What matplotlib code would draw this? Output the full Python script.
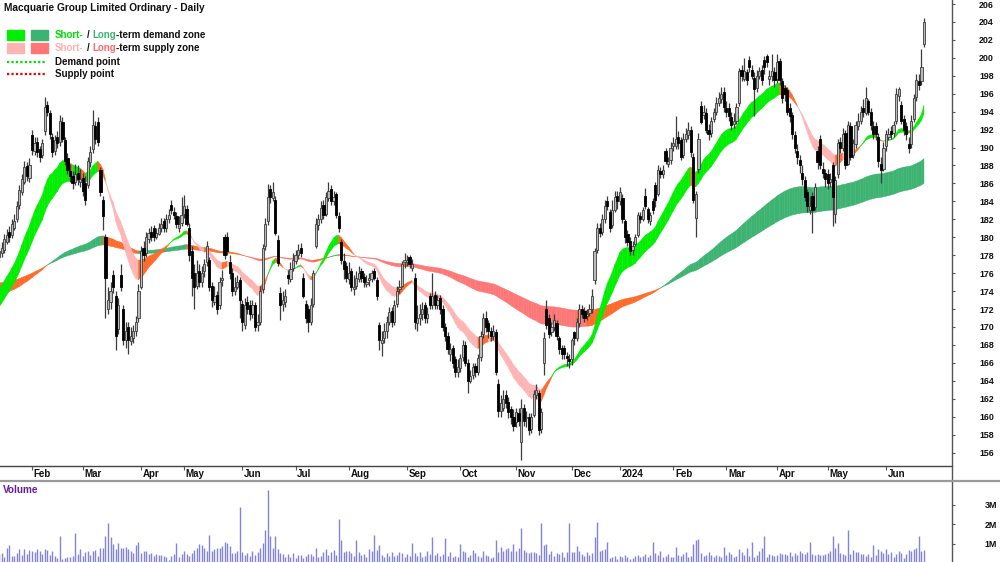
import numpy as np
import pandas as pd
import matplotlib
matplotlib.use("Agg")
import matplotlib.pyplot as plt
from matplotlib.collections import PolyCollection
from matplotlib.patches import Rectangle
from matplotlib.lines import Line2D

plt.rcParams['font.family'] = ['Liberation Sans', 'DejaVu Sans']

# ---------------- data, one line per month ----------------
open_ = [
    177.8, 178.2, 178.6, 179.5, 180.6, 180.2, 181.0, 182.0, 183.6, 185.0, 186.2, 187.9, 186.6,
    191.4, 189.6, 190.6, 189.8, 189.2, 191.8, 194.8, 193.8, 191.2, 189.6, 191.2, 190.6, 192.8, 190.8, 188.8, 187.4, 186.8, 186.2, 187.2, 186.2,
    186.6, 186.0, 185.8, 188.4, 189.8, 192.4, 192.8, 187.5, 184.2, 180.0, 172.0, 172.8, 175.8, 173.5, 169.8, 175.8, 172.0, 168.6, 170.0, 168.4, 168.8, 169.6, 171.0,
    174.5, 178.8, 178.2, 179.8, 180.6, 181.0, 180.0, 180.4, 181.0, 181.8, 181.0, 182.0, 183.6, 182.8, 182.4, 181.0, 181.6,
    182.6, 183.2, 181.0, 178.5, 176.0, 174.6, 176.2, 175.0, 176.2, 177.2, 177.5, 174.6, 172.8, 173.6, 172.4, 175.2, 180.0, 180.0, 177.2, 176.0, 174.0, 174.4, 175.2,
    172.6, 170.2, 172.8, 172.4, 171.4, 172.4, 170.2, 170.6, 174.2, 179.0, 181.8, 185.4, 184.4, 184.2, 179.7, 173.8, 172.6, 172.8, 175.8, 175.4, 176.6,
    177.4, 178.0, 178.8, 175.5, 172.6, 172.0, 170.6, 172.6, 179.0, 181.4, 182.0, 183.6, 182.6, 184.4, 185.4, 184.0, 184.8, 182.4, 179.5, 177.4, 176.8,
    175.4, 176.2, 174.2, 174.6, 175.4, 176.2, 175.6, 174.8, 175.2, 175.4, 176.2, 175.2, 170.2, 168.2, 168.8, 169.6, 170.6, 171.8, 170.6, 172.6, 174.2, 174.6, 177.2,
    177.2, 177.8, 176.6, 175.5, 170.4, 171.0, 171.4, 172.4, 171.0, 173.4, 172.4, 173.6, 172.4, 173.2, 172.0, 170.0, 169.0, 167.0, 167.6, 166.4, 165.0,
    165.4, 166.6, 168.0, 166.0, 164.0, 164.6, 165.6, 165.0, 166.6, 169.2, 171.0, 170.4, 169.6, 169.0, 169.4, 163.6, 160.6, 161.0, 162.4, 161.6, 160.8, 160.0,
    159.4, 160.4, 157.2, 161.0, 159.8, 160.0, 158.6, 160.2, 162.4, 162.6, 158.6, 166.0, 172.0, 171.0, 169.4, 170.0, 170.4, 168.8, 167.6, 167.6, 166.8, 166.4,
    166.4, 169.4, 168.8, 170.4, 172.0, 171.8, 171.2, 171.6, 172.0, 175.2, 178.6, 181.0, 180.6, 182.0, 184.0, 182.8, 181.4, 183.0, 184.6,
    184.0, 184.4, 181.8, 180.4, 179.6, 178.6, 179.2, 180.2, 182.4, 182.0, 184.6, 183.2, 181.8, 184.0, 185.8, 184.8, 187.4, 187.0, 189.6, 188.2, 188.6,
    190.2, 190.2, 191.2, 190.8, 189.2, 191.0, 191.4, 192.0, 189.0, 182.2, 187.6, 194.6, 193.6, 193.8, 192.0, 191.6, 193.2, 194.0, 195.0, 195.4, 196.2,
    194.4, 194.4, 193.4, 192.6, 193.0, 195.0, 198.6, 197.6, 198.4, 199.8, 198.6, 197.8, 196.6, 198.0, 198.6, 199.8, 200.2, 197.6, 198.0, 198.4,
    197.6, 199.6, 197.4, 196.6, 196.4, 194.4, 193.6, 191.4, 189.6, 188.6, 187.2, 186.4, 185.0, 183.0, 184.6, 183.4, 189.6, 191.0, 187.6, 187.2,
    187.0, 186.2, 188.0, 182.6, 187.0, 190.6, 190.0, 191.6, 188.2, 192.4, 189.2, 190.4, 192.4, 193.0, 194.4, 193.8, 195.2, 194.0, 192.4, 192.4, 191.2, 188.2, 187.6,
    190.2, 191.2, 191.8, 191.6, 193.0, 195.8, 194.8, 193.2, 192.4, 190.4, 190.4, 193.2, 195.6, 197.4, 197.4, 201.6,
]
high = [
    179.2, 179.5, 180.4, 180.9, 181.2, 182.0, 182.6, 184.0, 185.8, 187.0, 188.5, 188.4, 188.8,
    192.0, 191.2, 191.2, 190.2, 191.0, 195.6, 195.2, 194.2, 191.6, 191.4, 191.8, 193.6, 193.4, 191.2, 189.4, 188.2, 187.4, 188.2, 188.0, 187.6,
    187.2, 186.8, 189.0, 190.2, 194.2, 193.0, 193.4, 187.8, 184.6, 180.4, 174.5, 175.0, 176.4, 174.0, 173.2, 177.0, 172.5, 170.5, 170.5, 170.0, 170.2, 171.2, 174.8,
    179.0, 179.6, 180.6, 181.0, 181.2, 181.4, 181.0, 181.6, 182.2, 182.2, 182.6, 183.2, 184.2, 183.4, 182.8, 182.4, 184.5,
    184.7, 183.6, 181.6, 179.0, 177.0, 177.5, 177.0, 176.8, 177.6, 179.6, 177.8, 175.0, 174.6, 174.0, 175.6, 176.4, 180.4, 180.6, 178.0, 176.6, 175.6, 175.8, 175.6,
    173.0, 173.2, 173.4, 173.0, 173.0, 172.8, 171.4, 174.6, 179.2, 182.2, 185.9, 185.8, 186.2, 184.6, 180.2, 174.4, 174.0, 174.2, 176.4, 177.2, 178.2,
    178.6, 179.2, 179.4, 176.0, 173.0, 172.4, 173.2, 176.4, 182.2, 182.6, 184.0, 184.2, 185.0, 186.2, 185.8, 185.2, 185.0, 182.8, 179.8, 178.2, 177.2,
    177.2, 176.6, 175.8, 176.2, 176.8, 176.6, 176.0, 175.8, 176.0, 176.4, 176.6, 175.6, 170.6, 169.6, 170.4, 171.2, 172.2, 172.2, 173.0, 174.6, 175.2, 177.4, 178.2,
    178.0, 178.0, 177.6, 176.0, 172.4, 172.6, 172.8, 172.8, 172.2, 173.8, 176.0, 174.0, 173.6, 173.6, 172.4, 170.4, 169.4, 168.2, 168.0, 166.8, 166.4,
    167.0, 168.6, 168.4, 166.4, 165.2, 166.0, 166.0, 167.0, 169.6, 171.6, 171.8, 170.8, 170.0, 170.2, 169.8, 164.2, 162.4, 163.0, 163.0, 162.2, 161.2, 160.8,
    161.0, 161.0, 162.0, 161.4, 160.6, 160.4, 160.4, 163.0, 163.6, 163.0, 161.0, 169.4, 173.0, 171.4, 170.6, 171.4, 170.8, 169.0, 168.0, 168.0, 167.2, 167.0,
    168.8, 169.6, 171.0, 172.6, 172.4, 172.2, 172.0, 172.6, 174.2, 178.8, 181.6, 181.6, 182.6, 184.2, 184.6, 183.2, 184.2, 185.2, 185.2,
    185.6, 184.8, 182.0, 180.8, 180.0, 179.6, 180.4, 182.8, 182.8, 183.4, 185.5, 183.4, 182.8, 184.4, 186.2, 188.0, 187.8, 188.0, 190.0, 189.0, 190.6,
    191.2, 193.5, 191.8, 191.2, 191.6, 192.2, 192.8, 192.4, 189.4, 185.2, 191.6, 195.2, 194.8, 194.4, 192.6, 193.4, 194.4, 195.6, 196.2, 196.8, 196.8,
    195.2, 195.0, 194.0, 193.8, 195.0, 198.9, 199.2, 200.0, 198.8, 200.2, 199.2, 198.4, 198.6, 199.0, 199.2, 200.2, 200.4, 198.6, 200.4, 199.0,
    200.4, 200.0, 197.8, 197.0, 196.8, 195.0, 194.0, 191.8, 190.4, 189.2, 188.0, 186.8, 185.4, 184.6, 185.0, 186.0, 190.2, 191.4, 188.4, 187.6,
    187.6, 187.2, 188.4, 186.8, 191.0, 191.2, 192.2, 192.0, 193.0, 192.8, 191.0, 193.0, 193.8, 194.6, 195.4, 196.8, 195.4, 194.4, 193.0, 192.8, 191.6, 189.0, 190.6,
    192.0, 192.2, 192.4, 193.0, 196.6, 196.8, 195.2, 193.6, 192.8, 191.2, 193.6, 196.0, 198.2, 198.2, 201.0, 204.4,
]
low = [
    177.4, 177.8, 178.2, 179.2, 179.5, 179.9, 180.8, 181.7, 183.2, 184.7, 185.9, 186.3, 186.2,
    189.2, 189.2, 189.0, 188.4, 188.8, 191.4, 193.5, 191.0, 189.0, 189.2, 190.0, 190.2, 190.6, 188.1, 187.0, 186.2, 185.4, 185.8, 185.8, 185.6,
    184.6, 183.6, 185.5, 187.8, 189.4, 190.4, 190.2, 184.6, 180.8, 171.0, 171.5, 172.0, 173.8, 167.4, 169.2, 174.0, 168.0, 167.6, 167.0, 168.0, 168.2, 169.0, 170.5,
    174.2, 177.4, 177.8, 179.4, 179.6, 179.6, 179.8, 180.2, 180.6, 180.6, 180.6, 181.6, 182.6, 182.0, 181.0, 180.6, 181.2,
    182.2, 181.2, 177.4, 173.5, 172.0, 174.2, 174.4, 174.4, 175.6, 176.8, 174.0, 172.2, 172.4, 171.4, 172.0, 174.6, 177.6, 178.0, 175.4, 173.4, 173.6, 174.2, 171.0,
    169.6, 169.8, 171.4, 170.8, 171.0, 169.6, 169.6, 170.2, 173.8, 178.6, 181.4, 183.8, 184.0, 180.2, 176.8, 170.8, 171.8, 172.2, 174.8, 175.0, 176.2,
    177.0, 177.6, 177.8, 173.2, 170.4, 169.4, 170.2, 172.2, 178.8, 180.8, 181.6, 182.0, 182.4, 184.0, 183.6, 183.6, 182.2, 180.6, 177.0, 175.4, 175.0,
    174.8, 174.0, 173.6, 174.2, 175.0, 175.0, 174.4, 174.4, 174.6, 175.0, 175.2, 173.0, 167.4, 166.8, 168.2, 168.8, 170.2, 170.0, 170.2, 172.2, 173.8, 174.4, 176.6,
    176.8, 176.6, 176.2, 169.8, 169.6, 170.2, 170.8, 170.4, 170.4, 172.0, 172.0, 172.0, 172.0, 171.4, 169.6, 168.4, 167.0, 166.2, 165.4, 164.4, 164.4,
    165.0, 166.2, 165.6, 162.6, 163.8, 164.2, 164.4, 164.6, 166.2, 168.8, 169.4, 168.8, 168.4, 168.6, 164.6, 160.0, 160.0, 160.6, 161.0, 159.8, 159.2, 158.4,
    158.8, 159.0, 155.2, 159.0, 158.8, 158.0, 158.2, 160.0, 162.0, 158.0, 158.2, 164.6, 169.8, 168.8, 169.0, 169.6, 168.6, 167.0, 166.4, 166.4, 165.6, 165.4,
    165.8, 168.0, 168.4, 170.0, 171.0, 170.6, 170.8, 171.2, 171.6, 174.8, 178.2, 180.0, 180.2, 181.6, 183.0, 180.6, 181.0, 182.8, 183.2,
    183.6, 181.6, 179.4, 179.0, 178.0, 178.0, 179.0, 180.0, 181.6, 181.8, 183.2, 181.6, 181.4, 182.6, 183.4, 184.6, 186.6, 186.6, 188.2, 187.8, 188.2,
    189.6, 189.8, 189.8, 188.6, 188.8, 190.6, 191.0, 189.0, 183.8, 180.0, 187.2, 192.6, 193.2, 191.6, 190.8, 191.2, 192.8, 193.6, 194.6, 195.0, 194.0,
    193.4, 193.0, 192.0, 192.2, 192.6, 194.6, 197.4, 197.4, 197.0, 198.4, 197.6, 193.5, 196.2, 197.6, 197.0, 198.2, 199.0, 197.0, 197.4, 196.8,
    197.2, 197.0, 195.0, 195.2, 193.6, 192.8, 191.0, 189.4, 188.2, 187.2, 185.8, 184.0, 182.8, 182.6, 180.5, 183.0, 187.6, 187.6, 186.6, 185.6,
    185.4, 185.6, 181.3, 181.6, 186.6, 189.4, 189.6, 187.6, 188.0, 188.6, 188.8, 190.0, 192.0, 192.6, 193.4, 193.6, 193.6, 192.0, 191.0, 190.8, 187.8, 186.0, 187.4,
    189.6, 190.8, 191.0, 191.2, 192.6, 195.2, 192.6, 191.4, 190.8, 189.4, 190.0, 192.8, 195.2, 196.4, 197.0, 201.2,
]
close = [
    178.5, 178.8, 179.8, 180.2, 180.0, 181.5, 181.8, 183.5, 185.3, 186.5, 187.8, 186.8, 188.0,
    189.7, 190.5, 189.5, 189.0, 190.5, 194.5, 194.0, 191.5, 189.5, 190.8, 190.5, 193.0, 191.0, 188.5, 187.5, 186.8, 186.0, 187.0, 186.5, 186.5,
    185.2, 184.2, 188.5, 189.5, 192.5, 191.0, 190.6, 185.0, 182.4, 175.5, 173.0, 174.0, 174.5, 169.0, 172.5, 174.5, 168.5, 169.5, 168.5, 169.0, 169.5, 170.5, 174.0,
    178.5, 178.0, 180.0, 180.5, 180.0, 180.0, 180.5, 181.0, 181.5, 181.0, 182.0, 182.5, 183.0, 182.5, 181.5, 181.5, 182.5,
    183.5, 181.5, 178.0, 175.5, 174.5, 176.0, 175.0, 176.0, 177.0, 179.0, 174.5, 173.0, 173.5, 172.0, 175.0, 175.5, 178.0, 178.5, 176.0, 174.0, 174.5, 175.0, 173.0,
    170.5, 172.5, 172.0, 171.5, 172.5, 170.0, 170.5, 174.0, 178.8, 181.5, 184.5, 184.5, 185.0, 180.5, 177.1, 172.5, 173.0, 173.5, 175.5, 176.5, 177.5,
    178.0, 178.6, 178.2, 173.5, 171.0, 170.5, 172.5, 176.0, 181.5, 182.0, 183.3, 182.5, 184.5, 185.2, 184.0, 184.5, 182.5, 181.0, 177.5, 176.5, 175.5,
    176.0, 174.5, 174.5, 175.5, 176.0, 175.5, 175.0, 175.0, 175.5, 176.0, 175.5, 173.5, 168.5, 168.5, 169.5, 170.5, 171.7, 170.5, 172.5, 174.0, 174.5, 177.0, 177.5,
    177.5, 177.0, 177.0, 170.5, 171.0, 171.5, 172.0, 171.0, 171.5, 172.5, 173.5, 172.5, 173.0, 172.0, 170.0, 169.0, 167.5, 167.5, 166.0, 165.0, 165.5,
    166.5, 168.0, 166.0, 164.0, 164.5, 165.5, 165.0, 166.5, 169.0, 171.0, 170.0, 169.5, 169.0, 169.5, 165.0, 160.6, 161.5, 162.0, 161.5, 160.5, 160.0, 159.0,
    160.5, 159.5, 161.0, 159.5, 159.8, 158.5, 160.0, 162.5, 163.0, 158.5, 160.5, 168.8, 170.2, 169.2, 170.0, 170.8, 169.0, 167.5, 167.0, 167.0, 166.5, 166.2,
    168.5, 168.8, 170.5, 172.0, 171.5, 171.0, 171.5, 172.0, 173.5, 178.5, 181.0, 180.5, 182.0, 183.5, 183.5, 181.0, 183.0, 184.5, 184.0,
    185.0, 182.0, 180.0, 179.5, 178.5, 179.0, 180.0, 182.5, 182.0, 183.0, 183.5, 182.0, 182.5, 183.0, 184.2, 187.5, 187.0, 187.5, 188.5, 188.5, 190.0,
    190.5, 191.0, 190.5, 189.0, 191.0, 191.5, 192.0, 189.5, 184.2, 184.8, 191.0, 192.8, 194.0, 192.0, 191.5, 193.0, 194.0, 195.0, 195.5, 196.0, 194.5,
    194.0, 193.5, 192.5, 193.0, 194.5, 198.5, 198.0, 198.5, 197.5, 199.0, 198.0, 196.5, 198.0, 198.5, 197.5, 199.0, 199.5, 198.0, 198.5, 197.5,
    199.5, 197.5, 195.5, 196.0, 194.0, 193.5, 191.5, 190.0, 189.0, 188.0, 186.5, 184.5, 183.5, 183.5, 183.0, 185.6, 188.4, 188.0, 187.2, 186.5,
    186.0, 186.5, 184.5, 186.4, 190.5, 190.0, 191.5, 188.0, 192.5, 189.0, 190.5, 192.5, 193.0, 194.0, 194.0, 195.5, 194.0, 192.5, 191.5, 191.5, 188.5, 187.5, 190.0,
    191.5, 191.5, 191.5, 192.5, 196.0, 196.5, 193.0, 192.0, 191.5, 190.0, 193.0, 195.5, 197.5, 197.0, 199.0, 204.0,
]
volume_m = [
    0.45, 0.5, 0.3, 0.75, 0.95, 0.35, 0.35, 0.5, 0.7, 0.4, 0.7, 0.45, 0.65,
    0.6, 0.55, 0.7, 0.6, 0.45, 0.7, 0.65, 0.4, 0.6, 0.35, 0.25, 1.4, 0.2, 0.25, 0.3, 0.3, 0.35, 1.55, 0.45, 0.7,
    0.35, 0.55, 0.6, 0.4, 0.6, 0.65, 0.35, 0.75, 0.8, 1.4, 2.05, 1.35, 1.0, 0.7, 1.05, 0.75, 0.8, 0.85, 0.7, 0.6, 0.5, 0.95, 1.1,
    0.5, 0.6, 0.6, 0.45, 0.5, 0.35, 0.45, 0.4, 0.4, 0.35, 0.3, 0.15, 0.35, 0.45, 1.05, 0.3, 0.45,
    0.6, 0.45, 0.35, 0.5, 0.65, 0.8, 1.0, 0.95, 0.75, 0.6, 1.45, 0.6, 0.7, 0.8, 0.8, 0.9, 1.1, 1.05, 0.9, 0.5, 0.5, 0.6, 2.9,
    0.55, 0.4, 0.5, 0.35, 0.6, 0.4, 0.55, 0.8, 1.05, 1.7, 3.8, 1.4, 0.8, 1.4, 0.7, 0.5, 0.45, 0.3, 0.45, 0.3, 0.5,
    0.25, 0.4, 0.4, 0.25, 0.35, 0.45, 0.45, 0.35, 0.75, 0.3, 0.35, 0.55, 0.7, 0.4, 0.55, 0.65, 0.4, 2.3, 1.2, 0.55, 0.6,
    0.6, 0.5, 0.35, 1.2, 0.55, 0.4, 0.45, 0.3, 0.7, 0.6, 1.45, 0.65, 0.95, 0.4, 0.3, 0.5, 0.35, 0.55, 0.35, 0.4, 0.55, 0.5, 0.3,
    0.45, 0.35, 1.05, 0.5, 0.35, 0.55, 0.3, 0.35, 0.6, 0.45, 1.35, 0.4, 0.5, 0.35, 0.45, 1.3, 0.35, 0.55, 0.3, 0.35, 0.3,
    1.0, 0.6, 0.55, 0.3, 0.4, 0.65, 0.5, 0.35, 0.3, 0.6, 0.4, 0.35, 0.25, 0.3, 1.2, 0.55, 0.85, 0.6, 0.7, 0.75, 0.6, 1.0,
    0.6, 0.75, 1.8, 0.65, 0.55, 0.5, 0.55, 0.55, 0.5, 0.4, 2.05, 0.95, 1.0, 0.45, 0.6, 0.35, 0.5, 0.45, 0.55, 0.3, 0.55, 2.07,
    0.55, 0.55, 0.9, 0.6, 0.45, 0.35, 0.55, 0.4, 0.5, 1.35, 2.1, 0.6, 0.65, 0.7, 1.1, 0.25, 0.3, 0.35, 0.2,
    0.35, 0.3, 0.4, 0.3, 0.2, 0.25, 0.35, 0.4, 0.3, 0.35, 0.45, 0.3, 0.4, 1.1, 0.5, 0.4, 0.6, 0.3, 0.35, 0.45, 0.3,
    0.3, 0.85, 0.4, 0.35, 0.45, 0.55, 0.3, 0.35, 1.0, 1.2, 1.25, 0.5, 0.35, 0.4, 0.55, 0.4, 0.3, 0.4, 0.35, 0.3, 0.85,
    0.4, 0.55, 0.45, 0.3, 0.35, 0.7, 0.55, 0.4, 0.75, 0.35, 1.1, 0.3, 0.4, 0.6, 0.75, 1.4, 0.3, 0.45, 0.4, 0.35,
    0.4, 0.5, 0.45, 0.45, 0.4, 0.55, 0.35, 0.5, 0.4, 0.6, 0.5, 0.45, 0.55, 1.1, 0.45, 0.4, 0.45, 0.4, 0.4, 0.45,
    0.5, 0.6, 1.4, 0.8, 1.05, 0.5, 0.45, 0.4, 1.7, 0.45, 0.65, 0.55, 0.55, 0.45, 0.45, 0.35, 0.45, 0.3, 0.95, 0.4, 0.7, 0.6, 0.5,
    0.7, 0.45, 0.55, 0.3, 0.45, 0.6, 0.5, 0.25, 0.45, 0.65, 0.6, 0.7, 0.75, 1.4, 0.6, 0.65,
]
month_names = ['Jan', 'Feb', 'Mar', 'Apr', 'May', 'Jun', 'Jul', 'Aug', 'Sep', 'Oct', 'Nov', 'Dec']
asx_holidays = ['2023-01-26', '2023-04-07', '2023-04-10', '2023-04-25', '2023-06-12',
                '2023-12-25', '2023-12-26', '2024-01-01', '2024-01-26', '2024-03-29',
                '2024-04-01', '2024-04-25', '2024-06-10']
# ribbon settings: EMA spans and their values at the first bar
short_spans = (20, 30)
short_start = (174.2, 172.2)
long_spans = (130, 200)
long_start = (173.6, 174.9)

# ---------------- prepare ----------------
N = min(len(open_), len(high), len(low), len(close), len(volume_m))
o = np.array(open_[:N]); c = np.array(close[:N])
h = np.maximum(np.array(high[:N]), np.maximum(o, c))
l = np.minimum(np.array(low[:N]), np.minimum(o, c))
vol = np.array(volume_m[:N]) * 1e6
x = np.arange(N)

days = pd.bdate_range('2023-01-12', '2024-09-30')
days = days[~days.isin(pd.to_datetime(asx_holidays))][:N]
mstart = [k for k in range(1, N) if days[k].month != days[k - 1].month]
mlabels = ['2024' if (days[k].month == 1) else month_names[days[k].month - 1] for k in mstart]


def ema(vals, span, start):
    a = 2.0 / (span + 1)
    out = np.empty(len(vals))
    out[0] = start
    for k in range(1, len(vals)):
        out[k] = out[k - 1] + a * (vals[k] - out[k - 1])
    return out


W, H = 1000, 562
fig = plt.figure(figsize=(W / 100, H / 100), dpi=100)
fig.patch.set_facecolor('white')


def fy(py):
    return 1 - py / H


ax = fig.add_axes([0, fy(466), 952 / W, 466 / H])
axv = fig.add_axes([0, 0, 952 / W, (562 - 481) / H])
XL = (0.37, 376.06)

ORANGE = '#ff6a28'


def ribbon(fast, slow, demand_col, supply_col):
    rising = np.r_[False, np.diff(slow) > 0]
    rising[0] = rising[1]
    state = np.where((fast >= slow) & rising, 0, np.where((fast < slow) & ~rising, 1, 2))
    cols_map = [demand_col, supply_col, ORANGE]
    polys, cols = [], []
    for k in range(N - 1):
        polys.append([(k, fast[k]), (k + 1, fast[k + 1]), (k + 1, slow[k + 1]), (k, slow[k])])
        cols.append(cols_map[state[k + 1]])
    pc = PolyCollection(polys, facecolors=cols, edgecolors=cols, linewidths=0.3, zorder=1)
    ax.add_collection(pc)


lf = ema(c, long_spans[0], long_start[0]); ls = ema(c, long_spans[1], long_start[1])
sf = ema(c, short_spans[0], short_start[0]); ss = ema(c, short_spans[1], short_start[1])
ribbon(lf, ls, '#3cb371', '#ff7676')
ribbon(sf, ss, '#00ee00', '#ffb4b4')

# candles
up = c >= o
body_lo = np.minimum(o, c)
body_h = np.maximum(np.abs(c - o), 0.12)
ax.vlines(x, l, h, color='#3c3c3c', lw=0.9, zorder=3)
ax.bar(x[up], body_h[up], bottom=body_lo[up], width=0.86, color='#bababa',
       edgecolor='#3c3c3c', linewidth=0.6, zorder=4)
ax.bar(x[~up], body_h[~up], bottom=body_lo[~up], width=0.86, color='#000000',
       edgecolor='#000000', linewidth=0.6, zorder=4)

ax.set_xlim(*XL)
ax.set_ylim(154.5, 206.45)
for s in ['top', 'left', 'right']:
    ax.spines[s].set_visible(False)
ax.spines['bottom'].set_color('#444444')
ax.spines['bottom'].set_linewidth(1.0)
ax.yaxis.tick_right()
ax.set_yticks(np.arange(156, 207, 2))
ax.tick_params(axis='y', direction='out', length=2.5, width=0.8, color='#555555',
               pad=17, labelsize=6.4, labelcolor='#111111')
for t in ax.get_yticklabels():
    t.set_fontweight('bold')
ax.set_xticks(mstart)
ax.set_xticklabels([''] * len(mstart))
ax.tick_params(axis='x', direction='out', length=3, width=0.8, color='#555555')
for k, lab in zip(mstart, mlabels):
    ax.text(k + 0.7, -0.0168, lab, transform=ax.get_xaxis_transform(), ha='left', va='center',
            fontsize=7, fontweight='bold', color='#111111', clip_on=False)

# volume
axv.vlines(x, 0, vol, color='#8484d6', lw=1.0)
axv.set_xlim(*XL)
axv.set_ylim(0.05e6, 4.24e6)
for s in axv.spines.values():
    s.set_visible(False)
axv.set_xticks([])
axv.yaxis.tick_right()
axv.set_yticks([1e6, 2e6, 3e6])
axv.set_yticklabels(['1M', '2M', '3M'])
axv.tick_params(axis='y', direction='out', length=2.5, width=0.8, color='#555555',
                pad=21, labelsize=6.4, labelcolor='#111111')
for t in axv.get_yticklabels():
    t.set_fontweight('bold')
axv.text(0.003, 0.885, 'Volume', transform=axv.transAxes, color='#6a1b9a', fontsize=7.2,
         fontweight='bold', va='center', ha='left')

fig.add_artist(Line2D([952 / W, 952 / W], [0, 1], color='#555555', lw=1.0))
fig.add_artist(Line2D([0, 1], [fy(481), fy(481)], color='#9a9a9a', lw=1.6))

# title and legend
fig.text(4 / W, fy(8), 'Macquarie Group Limited Ordinary - Daily', fontsize=7.3,
         fontweight='bold', va='center', ha='left', color='#111111')


def legend_text(ypx, parts):
    for xpx, s, col in parts:
        fig.text(xpx / W, fy(ypx), s, color=col, fontsize=7, fontweight='bold',
                 va='center', ha='left')


fig.add_artist(Rectangle((7 / W, fy(40)), 17 / W, 10 / H, color='#00ee00'))
fig.add_artist(Rectangle((31 / W, fy(40)), 17 / W, 10 / H, color='#3cb371'))
legend_text(35, [(55, 'Short-', '#00e000'), (86.5, '/', '#111111'), (92, 'Long', '#3cb371'),
                 (116, '-term demand zone', '#111111')])
fig.add_artist(Rectangle((7 / W, fy(53)), 17 / W, 10 / H, color='#ffb4b4'))
fig.add_artist(Rectangle((31 / W, fy(53)), 17 / W, 10 / H, color='#ff7676'))
legend_text(48, [(55, 'Short-', '#ffb0b0'), (86.5, '/', '#111111'), (92, 'Long', '#ff6a6a'),
                 (116, '-term supply zone', '#111111')])
fig.add_artist(Line2D([7 / W, 47 / W], [fy(62), fy(62)], color='#00dd00', lw=1.6,
                      linestyle=(0, (1, 1))))
fig.text(55 / W, fy(62), 'Demand point', fontsize=7, fontweight='bold', va='center',
         ha='left', color='#111111')
fig.add_artist(Line2D([7 / W, 47 / W], [fy(74), fy(74)], color='#ee0000', lw=1.6,
                      linestyle=(0, (1, 1))))
fig.text(55 / W, fy(74), 'Supply point', fontsize=7, fontweight='bold', va='center',
         ha='left', color='#111111')

fig.savefig('out.png', dpi=100, facecolor='white')
